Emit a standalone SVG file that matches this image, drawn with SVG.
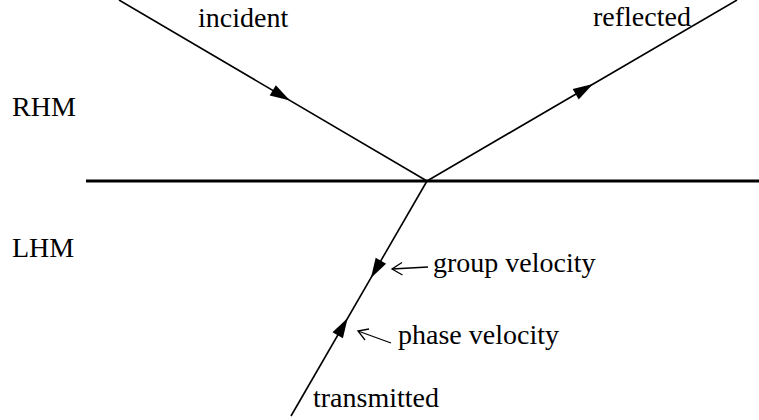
<svg xmlns="http://www.w3.org/2000/svg" width="759" height="420" viewBox="0 0 759 420">
<style>
text{font-family:"Liberation Serif","Times New Roman",serif;font-size:28px;fill:#000}
.ln{stroke:#000;stroke-width:1.6;fill:none}
.ah{fill:#000;stroke:none}
.sm{stroke:#000;stroke-width:1.3;fill:none}
</style>
<rect width="759" height="420" fill="#fff"/>
<g id="interface"><line x1="86" y1="181" x2="759" y2="181" stroke="#000" stroke-width="3"/></g>
<g id="labels">
<text x="12" y="116">RHM</text>
<text x="12" y="257">LHM</text>
</g>
<g id="connectors">
<g id="incident-ray">
<line class="ln" x1="119" y1="0" x2="427" y2="181"/>
<polygon class="ah" points="290,100.5 269.7,95.6 275.8,85.3"/>
</g>
<g id="reflected-ray">
<line class="ln" x1="427" y1="181" x2="737" y2="0"/>
<polygon class="ah" points="593,84.1 578.7,99.4 572.7,89"/>
</g>
<g id="transmitted-ray">
<line class="ln" x1="427" y1="181" x2="291" y2="416"/>
<polygon class="ah" points="370.9,278 386.1,263.7 375.7,257.7"/>
<polygon class="ah" points="347.7,318 342.9,338.3 332.5,332.3"/>
</g>
<g id="group-pointer">
<line class="sm" x1="428" y1="267" x2="392" y2="269"/>
<polyline class="sm" points="402,262.5 392,269 402.5,275"/>
</g>
<g id="phase-pointer">
<line class="sm" x1="391" y1="343" x2="358" y2="331"/>
<polyline class="sm" points="369,329 358,331 365,340"/>
</g>
</g>
<g id="texts">
<text x="198" y="27">incident</text>
<text x="593" y="26">reflected</text>
<text x="433" y="272">group velocity</text>
<text x="398" y="344">phase velocity</text>
<text x="313" y="407">transmitted</text>
</g>
</svg>
